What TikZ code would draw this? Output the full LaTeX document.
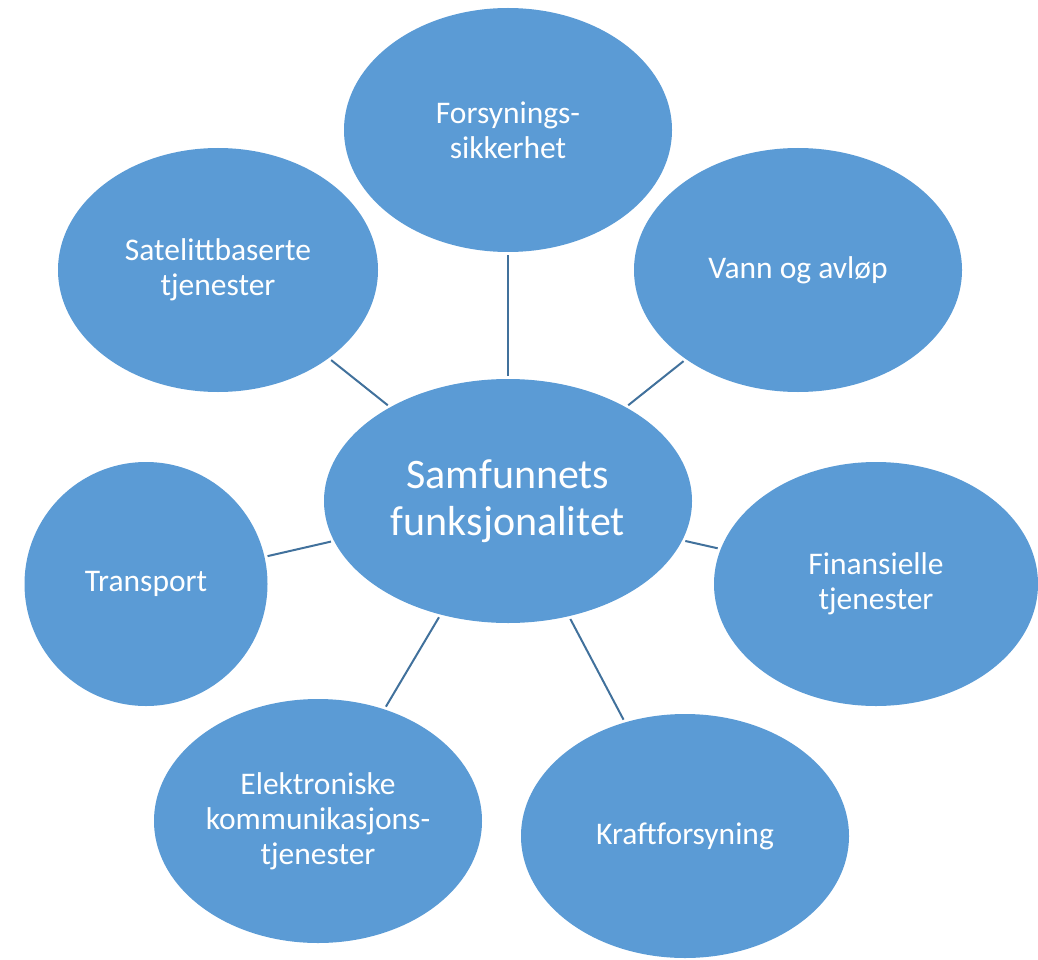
\documentclass[tikz,border=0pt]{standalone}
\usepackage{fontspec}
\setmainfont{Carlito}
\usetikzlibrary{shapes.geometric}
\definecolor{bubble}{HTML}{5B9BD5}
\definecolor{spoke}{HTML}{41719C}

\begin{document}
\begin{tikzpicture}[x=1pt,y=-1pt,
    omr/.style={ellipse,fill=bubble,inner sep=0pt,minimum width=328pt,minimum height=244pt,
        text=white,align=center,font=\fontsize{31.5}{35}\selectfont},
    senter/.style={omr,minimum width=368pt,font=\fontsize{42}{47}\selectfont},
    kant/.style={spoke,line width=2pt,shorten <=3pt,shorten >=3pt}]
\useasboundingbox (0,0) rectangle (1038,960);
% midten
\node[senter] (sam) at (508,501) {Samfunnets\\funksjonalitet};
% rundt
\node[omr] (fors) at (508,130) {Forsynings-\\sikkerhet};
\node[omr,minimum width=320pt] (sat) at (218,270) {Satelittbaserte\\tjenester};
\node[omr] (vann) at (798,270) {Vann og avløp};
\node[omr,minimum width=243pt] (trans) at (146,584) {Transport};
\node[omr,minimum width=324pt] (fin) at (876,584) {Finansielle\\tjenester};
\node[omr] (elek) at (318,821) {Elektroniske\\kommunikasjons-\\tjenester};
\node[omr] (kraft) at (685,836) {Kraftforsyning};
\draw[kant] (sam)--(fors);
\draw[kant] (sam)--(sat);
\draw[kant] (sam)--(vann);
\draw[kant] (sam)--(trans);
\draw[kant] (sam)--(fin);
\draw[kant] (sam)--(elek);
\draw[kant] (sam)--(kraft);
\end{tikzpicture}
\end{document}
